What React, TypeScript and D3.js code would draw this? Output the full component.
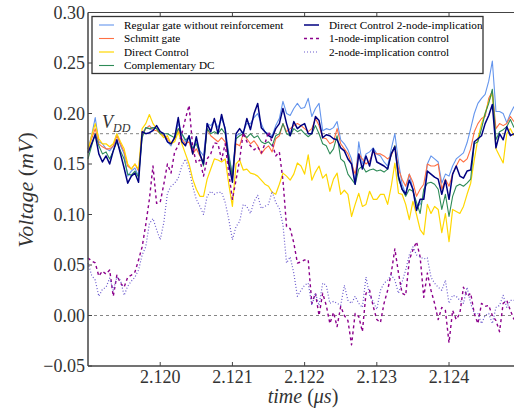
import React, { useEffect, useRef } from "react";
import * as d3 from "d3";

// sample grid (time in µs)
const times = d3.range(119).map((i) => 2.119 + i * 0.00005);

const regularGate = [
  0.165, 0.178, 0.196, 0.172, 0.17, 0.165, 0.163, 0.168, 0.18, 0.168,
  0.16, 0.138, 0.143, 0.146, 0.138, 0.18, 0.186, 0.185, 0.183, 0.188,
  0.18, 0.178, 0.172, 0.168, 0.177, 0.19, 0.18, 0.172, 0.178, 0.165,
  0.172, 0.163, 0.158, 0.19, 0.188, 0.193, 0.186, 0.195, 0.186, 0.16,
  0.14, 0.178, 0.18, 0.182, 0.19, 0.19, 0.196, 0.2, 0.19, 0.182,
  0.18, 0.178, 0.188, 0.195, 0.212, 0.2, 0.198, 0.205, 0.21, 0.205,
  0.206, 0.215, 0.197, 0.205, 0.21, 0.183, 0.185, 0.184, 0.186, 0.192,
  0.174, 0.17, 0.164, 0.155, 0.13, 0.172, 0.15, 0.16, 0.162, 0.166,
  0.16, 0.158, 0.152, 0.148, 0.165, 0.18, 0.152, 0.13, 0.12, 0.14,
  0.125, 0.108, 0.11, 0.118, 0.15, 0.158, 0.155, 0.152, 0.131, 0.14,
  0.138, 0.148, 0.155, 0.158, 0.161, 0.171, 0.185, 0.2, 0.21, 0.215,
  0.219, 0.232, 0.252, 0.202, 0.202, 0.2, 0.191, 0.2, 0.207,
];

const schmittGate = [
  0.165, 0.175, 0.185, 0.17, 0.167, 0.165, 0.165, 0.168, 0.178, 0.17,
  0.162, 0.148, 0.145, 0.15, 0.143, 0.18, 0.185, 0.188, 0.184, 0.183,
  0.18, 0.178, 0.175, 0.17, 0.175, 0.185, 0.175, 0.17, 0.172, 0.16,
  0.165, 0.158, 0.152, 0.185, 0.178, 0.175, 0.172, 0.176, 0.172, 0.155,
  0.135, 0.17, 0.168, 0.18, 0.175, 0.17, 0.173, 0.168, 0.16, 0.165,
  0.168, 0.162, 0.175, 0.178, 0.19, 0.182, 0.185, 0.188, 0.19, 0.188,
  0.185, 0.182, 0.185, 0.195, 0.188, 0.176, 0.175, 0.17, 0.172, 0.185,
  0.17, 0.165, 0.16, 0.15, 0.14, 0.16, 0.155, 0.15, 0.153, 0.162,
  0.16, 0.16, 0.158, 0.155, 0.158, 0.168, 0.145, 0.135, 0.128, 0.14,
  0.132, 0.118, 0.125, 0.13, 0.15, 0.148, 0.148, 0.15, 0.125, 0.135,
  0.128, 0.14, 0.148, 0.155, 0.152, 0.155, 0.165, 0.182, 0.19, 0.195,
  0.197, 0.215, 0.222, 0.185, 0.19, 0.188, 0.19, 0.197, 0.192,
];

const directControl = [
  0.162, 0.178, 0.19, 0.175, 0.17, 0.17, 0.167, 0.17, 0.18, 0.172,
  0.165, 0.15, 0.145, 0.15, 0.145, 0.185, 0.19, 0.199, 0.19, 0.185,
  0.18, 0.176, 0.178, 0.17, 0.172, 0.182, 0.17, 0.16, 0.15, 0.135,
  0.125, 0.118, 0.118, 0.135, 0.145, 0.155, 0.154, 0.152, 0.155, 0.13,
  0.108, 0.15, 0.154, 0.144, 0.145, 0.141, 0.14, 0.138, 0.134, 0.13,
  0.128, 0.122, 0.12, 0.13, 0.141, 0.138, 0.134, 0.14, 0.151, 0.148,
  0.14, 0.159, 0.134, 0.142, 0.148, 0.136, 0.14, 0.123, 0.135, 0.141,
  0.12, 0.124, 0.12, 0.098, 0.11, 0.121, 0.108, 0.11, 0.123, 0.115,
  0.115, 0.12, 0.12, 0.11, 0.128, 0.151, 0.121, 0.12, 0.11, 0.095,
  0.113, 0.1, 0.085, 0.08, 0.11, 0.101, 0.108, 0.105, 0.082, 0.101,
  0.073, 0.105, 0.103, 0.101, 0.108, 0.12, 0.131, 0.154, 0.175, 0.19,
  0.2, 0.212, 0.22, 0.165, 0.158, 0.151, 0.18, 0.185, 0.178,
];

const complementaryDC = [
  0.155, 0.168, 0.18, 0.168, 0.16, 0.162, 0.155, 0.163, 0.172, 0.163,
  0.155, 0.14, 0.139, 0.143, 0.137, 0.176, 0.186, 0.185, 0.186, 0.185,
  0.18, 0.18, 0.18, 0.178, 0.176, 0.185, 0.18, 0.174, 0.176, 0.165,
  0.17, 0.16, 0.148, 0.185, 0.18, 0.182, 0.18, 0.185, 0.18, 0.158,
  0.138, 0.175, 0.178, 0.18, 0.176, 0.18, 0.176, 0.178, 0.172, 0.17,
  0.172, 0.168, 0.178, 0.18, 0.19, 0.18, 0.178, 0.185, 0.182, 0.184,
  0.18, 0.177, 0.18, 0.188, 0.18, 0.17, 0.168, 0.16, 0.165, 0.178,
  0.155, 0.152, 0.14, 0.135, 0.13, 0.145, 0.148, 0.142, 0.144, 0.145,
  0.143, 0.144, 0.142, 0.145, 0.16, 0.168, 0.135, 0.125, 0.118, 0.125,
  0.123, 0.112, 0.101, 0.125, 0.131, 0.132, 0.13, 0.125, 0.105, 0.12,
  0.098, 0.118, 0.128, 0.13, 0.128, 0.131, 0.135, 0.17, 0.172, 0.185,
  0.2, 0.21, 0.224, 0.174, 0.182, 0.184, 0.187, 0.194, 0.186,
];

const dc2Node = [
  0.161, 0.17, 0.179, 0.16, 0.152, 0.158, 0.15, 0.163, 0.174, 0.16,
  0.146, 0.131, 0.138, 0.141, 0.132, 0.182, 0.18, 0.181, 0.183, 0.188,
  0.182, 0.18, 0.172, 0.17, 0.176, 0.196, 0.172, 0.168, 0.178, 0.16,
  0.177, 0.16, 0.15, 0.19, 0.182, 0.195, 0.18, 0.199, 0.184, 0.15,
  0.132, 0.18, 0.185, 0.18, 0.195, 0.184, 0.2, 0.21, 0.186, 0.182,
  0.178, 0.176, 0.185, 0.19, 0.205, 0.19, 0.178, 0.192, 0.185, 0.188,
  0.19, 0.18, 0.18, 0.197, 0.193, 0.176, 0.179, 0.178, 0.175, 0.174,
  0.166, 0.163, 0.155, 0.15, 0.13, 0.16, 0.145, 0.158, 0.148, 0.165,
  0.152, 0.15, 0.148, 0.145, 0.16, 0.167, 0.138, 0.125, 0.12, 0.134,
  0.125, 0.104, 0.115, 0.115, 0.143, 0.14, 0.137, 0.135, 0.12, 0.134,
  0.115, 0.14, 0.148, 0.138, 0.136, 0.143, 0.144, 0.172, 0.175, 0.178,
  0.19, 0.198, 0.209, 0.166, 0.18, 0.174, 0.187, 0.178, 0.18,
];

const implication1Node = [
  0.057, 0.054, 0.052, 0.039, 0.044, 0.041, 0.045, 0.019, 0.04, 0.032,
  0.028, 0.038, 0.04, 0.043, 0.055, 0.068, 0.09, 0.115, 0.148, 0.111,
  0.112, 0.13, 0.15, 0.141, 0.162, 0.168, 0.18, 0.195, 0.208, 0.167,
  0.151, 0.154, 0.138, 0.155, 0.16, 0.171, 0.17, 0.154, 0.17, 0.141,
  0.115, 0.134, 0.154, 0.181, 0.172, 0.168, 0.164, 0.167, 0.161, 0.17,
  0.182, 0.171, 0.158, 0.162, 0.134, 0.088, 0.086, 0.072, 0.052, 0.053,
  0.055, 0.055, 0.012, 0.022, 0.0, 0.022, 0.01, -0.008, 0.003, -0.011,
  0.009, 0.0, -0.005, -0.029, 0.002, -0.001, -0.016, 0.022, 0.025, 0.009,
  -0.004, -0.007, 0.012, 0.025, 0.042, 0.066, 0.042, 0.022, 0.02, 0.055,
  0.065, 0.073, 0.058, 0.018, 0.042, 0.025, 0.012, -0.004, 0.008, 0.005,
  -0.027, 0.005, -0.004, 0.002, 0.028, 0.019, 0.022, 0.002, -0.008, 0.012,
  0.009, 0.01, 0.0, -0.005, -0.016, 0.012, 0.015, 0.005, -0.004,
];

const implication2Node = [
  0.052, 0.04, 0.035, 0.019, 0.026, 0.028, 0.037, 0.025, 0.038, 0.035,
  0.02, 0.029, 0.034, 0.038, 0.045, 0.06, 0.068, 0.091, 0.096, 0.085,
  0.075, 0.092, 0.121, 0.128, 0.131, 0.136, 0.148, 0.155, 0.145, 0.128,
  0.115, 0.108, 0.1, 0.118, 0.123, 0.12, 0.122, 0.122, 0.112, 0.095,
  0.075, 0.088, 0.093, 0.11, 0.108, 0.101, 0.113, 0.119, 0.106, 0.108,
  0.11, 0.123, 0.112, 0.106, 0.09, 0.052, 0.058, 0.042, 0.019, 0.025,
  0.03, 0.032, 0.01, 0.022, 0.01, 0.032, 0.03, 0.012, 0.014, 0.012,
  0.01, 0.03, 0.015, 0.012, 0.019, 0.012, 0.008, 0.038, 0.02, 0.014,
  0.006, 0.025, 0.032, 0.035, 0.04, 0.035, 0.022, 0.033, 0.045, 0.06,
  0.068, 0.06, 0.058, 0.056, 0.057, 0.038, 0.032, 0.028, 0.025, 0.035,
  0.012, 0.02, 0.019, 0.015, 0.012, 0.028, 0.012, 0.002, 0.002, -0.008,
  0.0, 0.002, -0.008, 0.008, 0.01, 0.02, 0.008, 0.015, 0.015,
];

const xTicks = [2.12, 2.121, 2.122, 2.123, 2.124];
const yTicks = [-0.05, 0.0, 0.05, 0.1, 0.15, 0.2, 0.25, 0.3];
const vdd = 0.18;

const series = [
  { name: "Regular gate without reinforcement", values: regularGate, color: "#6495ed", width: 1.1, dash: null },
  { name: "Schmitt gate", values: schmittGate, color: "#ff7043", width: 1.1, dash: null },
  { name: "Direct Control", values: directControl, color: "#ffd700", width: 1.2, dash: null },
  { name: "Complementary DC", values: complementaryDC, color: "#2e8b57", width: 1.1, dash: null },
  { name: "Direct Control 2-node-implication", values: dc2Node, color: "#000080", width: 1.5, dash: null },
  { name: "1-node-implication control", values: implication1Node, color: "#8b008b", width: 1.4, dash: "3,3" },
  { name: "2-node-implication control", values: implication2Node, color: "#6a5acd", width: 1.2, dash: "1,2" },
];

const W = 514;
const H = 412;
const left = 88;
const right = 514;
const top = 12.5;
const bottom = 366;
const serif = "'Liberation Serif', 'DejaVu Serif', serif";

const App = () => {
  const ref = useRef<SVGSVGElement>(null);

  useEffect(() => {
    if (!ref.current) return;
    const svg = d3.select(ref.current);
    svg.selectAll("*").remove();

    const x = d3.scaleLinear().domain([2.119, 2.1249]).range([left, right]);
    const y = d3.scaleLinear().domain([-0.05, 0.3]).range([bottom, top]);

    svg.append("rect").attr("width", W).attr("height", H).attr("fill", "#fff");

    // reference lines
    [vdd, 0].forEach((v) => {
      svg
        .append("line")
        .attr("x1", left)
        .attr("x2", right)
        .attr("y1", y(v))
        .attr("y2", y(v))
        .attr("stroke", "#777")
        .attr("stroke-width", 0.9)
        .attr("stroke-dasharray", "3,3");
    });

    const plot = svg.append("g");
    series.forEach((s) => {
      const line = d3
        .line<number>()
        .x((_, i) => x(times[i]))
        .y((d) => y(d));
      plot
        .append("path")
        .datum(s.values)
        .attr("d", line)
        .attr("fill", "none")
        .attr("stroke", s.color)
        .attr("stroke-width", s.width)
        .attr("stroke-linejoin", "round")
        .attr("stroke-dasharray", s.dash);
    });

    // V_DD label
    const vt = svg
      .append("text")
      .attr("x", 102)
      .attr("y", y(vdd) - 6)
      .attr("font-family", serif)
      .attr("font-style", "italic")
      .attr("font-size", 18)
      .attr("fill", "#333");
    vt.append("tspan").text("V");
    vt.append("tspan").attr("dy", 4).attr("font-size", 12).text("DD");

    // spines
    const axisColor = "#444";
    svg.append("line").attr("x1", left).attr("x2", left).attr("y1", top).attr("y2", bottom)
      .attr("stroke", axisColor).attr("stroke-width", 1.5);
    svg.append("line").attr("x1", left).attr("x2", right).attr("y1", bottom).attr("y2", bottom)
      .attr("stroke", axisColor).attr("stroke-width", 1.5);
    svg.append("line").attr("x1", left).attr("x2", right).attr("y1", top).attr("y2", top)
      .attr("stroke", axisColor).attr("stroke-width", 1.2);

    // ticks
    const fy = d3.format(".2f");
    yTicks.forEach((t) => {
      svg.append("line").attr("x1", left).attr("x2", left + 4).attr("y1", y(t)).attr("y2", y(t))
        .attr("stroke", axisColor).attr("stroke-width", 1);
      svg
        .append("text")
        .attr("x", left - 3)
        .attr("y", y(t))
        .attr("dy", "0.35em")
        .attr("text-anchor", "end")
        .attr("font-family", serif)
        .attr("font-size", 18)
        .attr("fill", "#333")
        .text(fy(t));
    });
    const fx = d3.format(".3f");
    xTicks.forEach((t) => {
      svg.append("line").attr("x1", x(t)).attr("x2", x(t)).attr("y1", bottom).attr("y2", bottom - 4)
        .attr("stroke", axisColor).attr("stroke-width", 1);
      svg.append("line").attr("x1", x(t)).attr("x2", x(t)).attr("y1", top).attr("y2", top + 4)
        .attr("stroke", axisColor).attr("stroke-width", 1);
      svg
        .append("text")
        .attr("x", x(t))
        .attr("y", bottom + 17)
        .attr("text-anchor", "middle")
        .attr("font-family", serif)
        .attr("font-size", 18)
        .attr("fill", "#333")
        .text(fx(t));
    });

    // axis labels
    const xl = svg
      .append("text")
      .attr("x", 303)
      .attr("y", 403)
      .attr("text-anchor", "middle")
      .attr("font-family", serif)
      .attr("font-size", 20)
      .attr("fill", "#333");
    xl.append("tspan").attr("font-style", "italic").text("time ");
    xl.append("tspan").text("(");
    xl.append("tspan").attr("font-style", "italic").text("μs");
    xl.append("tspan").text(")");

    const yl = svg
      .append("text")
      .attr("transform", "translate(33,190) rotate(-90)")
      .attr("text-anchor", "middle")
      .attr("font-family", serif)
      .attr("font-size", 22)
      .attr("fill", "#333");
    yl.append("tspan").attr("font-style", "italic").text("Voltage ");
    yl.append("tspan").text("(");
    yl.append("tspan").attr("font-style", "italic").text("mV");
    yl.append("tspan").text(")");

    // legend
    const lg = svg.append("g");
    lg.append("rect")
      .attr("x", 92)
      .attr("y", 16.5)
      .attr("width", 391)
      .attr("height", 57)
      .attr("fill", "#fff")
      .attr("stroke", "#333")
      .attr("stroke-width", 1.3);
    series.forEach((s, i) => {
      const col = i < 4 ? 0 : 1;
      const row = i < 4 ? i : i - 4;
      const lx = col === 0 ? 99 : 304;
      const ly = 25 + row * 13.5;
      lg.append("line")
        .attr("x1", lx)
        .attr("x2", lx + 15)
        .attr("y1", ly)
        .attr("y2", ly)
        .attr("stroke", s.color)
        .attr("stroke-width", s.width)
        .attr("stroke-dasharray", s.dash);
      lg.append("text")
        .attr("x", lx + 25)
        .attr("y", ly)
        .attr("dy", "0.35em")
        .attr("font-family", serif)
        .attr("font-size", 11.2)
        .attr("fill", "#000")
        .text(s.name);
    });
  }, []);

  return (
    <div style={{ position: "absolute", left: 0, top: 0 }}>
      <svg ref={ref} width={W} height={H} style={{ display: "block" }} />
    </div>
  );
};

export default App;
